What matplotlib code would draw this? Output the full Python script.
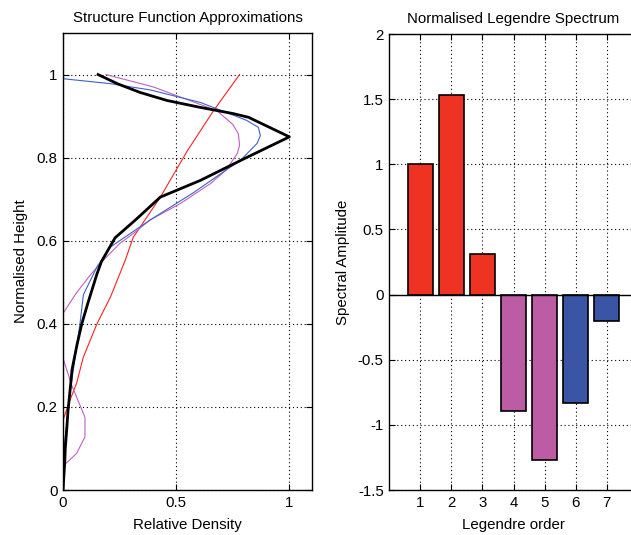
import matplotlib
matplotlib.use('Agg')
import matplotlib.pyplot as plt

plt.rcParams['font.family'] = ['Liberation Sans', 'DejaVu Sans']
plt.rcParams['font.size'] = 10.8
plt.rcParams['axes.unicode_minus'] = False

# structure function profiles (height, relative density)
black_h = [1.0, 0.978, 0.957, 0.9375, 0.921, 0.906, 0.897, 0.85, 0.80, 0.745,
           0.705, 0.65, 0.607, 0.55, 0.52, 0.45, 0.40, 0.35, 0.29, 0.25,
           0.19, 0.15, 0.10, 0.07, 0.0]
black_x = [0.155, 0.24, 0.34, 0.46, 0.606, 0.752, 0.82, 1.00, 0.81, 0.606,
           0.43, 0.32, 0.23, 0.17, 0.15, 0.11, 0.083, 0.062, 0.04, 0.033,
           0.022, 0.017, 0.010, 0.008, 0.0]

blue_h = [0.99, 0.978, 0.963, 0.933, 0.89, 0.873, 0.853, 0.834, 0.793, 0.77,
          0.717, 0.65, 0.585, 0.537, 0.47, 0.40, 0.345, 0.23, 0.15, 0.10, 0.0]
blue_x = [0.0, 0.21, 0.385, 0.606, 0.81, 0.863, 0.872, 0.857, 0.783, 0.72,
          0.58, 0.385, 0.21, 0.15, 0.09, 0.075, 0.06, 0.03, 0.015, 0.004, 0.003]

mag_h = [1.0, 0.97, 0.913, 0.88, 0.857, 0.83, 0.81, 0.77, 0.737, 0.69,
         0.65, 0.617, 0.593, 0.545, 0.517, 0.475, 0.425, 0.37, 0.317, 0.25,
         0.175, 0.128, 0.088, 0.065, 0.04, 0.0]
mag_x = [0.19, 0.40, 0.68, 0.75, 0.775, 0.78, 0.77, 0.72, 0.65, 0.52,
         0.385, 0.31, 0.25, 0.164, 0.12, 0.06, 0.0, -0.03, 0.0, 0.04,
         0.097, 0.097, 0.06, 0.015, -0.03, -0.08]

red_h = [0.14, 0.168, 0.215, 0.257, 0.32, 0.40, 0.465, 0.553, 0.608,
         0.705, 0.817, 0.913, 1.0]
red_x = [-0.02, 0.0, 0.03, 0.06, 0.09, 0.15, 0.21, 0.275, 0.31,
         0.43, 0.55, 0.665, 0.78]

# legendre spectrum
orders = [1, 2, 3, 4, 5, 6, 7]
amplitudes = [1.0, 1.53, 0.31, -0.89, -1.27, -0.83, -0.20]
bar_colors = ['#EE3322', '#EE3322', '#EE3322', '#BB5CA4', '#BB5CA4',
              '#3A55A5', '#3A55A5']


def style_axes(ax):
    ax.tick_params(direction='in', length=4, top=True, right=True,
                   width=0.8, colors='black', pad=4)
    ax.grid(True, color='black', linestyle=(0, (1, 2.5)), linewidth=0.8)
    ax.set_axisbelow(True)
    for s in ax.spines.values():
        s.set_linewidth(1.0)


W, H = 631, 535
fig = plt.figure(figsize=(W / 100, H / 100), dpi=100)

ax1 = fig.add_axes([63 / W, 1 - 490 / H, (312 - 63) / W, (490 - 33) / H])
ax1.plot(red_x, red_h, color='#FF2020', lw=0.8)
ax1.plot(mag_x, mag_h, color='#C060C0', lw=0.8)
ax1.plot(blue_x, blue_h, color='#4060C8', lw=0.8)
ax1.plot(black_x, black_h, color='black', lw=2.0)
ax1.set_xlim(0, 1.1)
ax1.set_ylim(0, 1.1)
ax1.set_xticks([0, 0.5, 1])
ax1.set_xticklabels(['0', '0.5', '1'])
ax1.set_yticks([0, 0.2, 0.4, 0.6, 0.8, 1.0])
ax1.set_yticklabels(['0', '0.2', '0.4', '0.6', '0.8', '1'])
style_axes(ax1)
ax1.set_title('Structure Function Approximations', fontsize=10.8, pad=8)
ax1.set_xlabel('Relative Density', labelpad=6)
ax1.set_ylabel('Normalised Height', labelpad=6)

ax2 = fig.add_axes([389.3 / W, 1 - 490 / H, (637.8 - 389.3) / W, (490 - 34) / H])
ax2.bar(orders, amplitudes, width=0.8, color=bar_colors,
        edgecolor='black', linewidth=1.2, zorder=3)
ax2.axhline(0, color='black', lw=1.0, zorder=4)
ax2.set_xlim(0, 8)
ax2.set_ylim(-1.5, 2)
ax2.set_xticks(orders)
ax2.set_xticklabels([str(o) for o in orders])
yt = [-1.5, -1, -0.5, 0, 0.5, 1, 1.5, 2]
ax2.set_yticks(yt)
ax2.set_yticklabels(['-1.5', '-1', '-0.5', '0', '0.5', '1', '1.5', '2'])
style_axes(ax2)
ax2.set_title('Normalised Legendre Spectrum', fontsize=10.8, pad=8)
ax2.set_xlabel('Legendre order', labelpad=6)
ax2.set_ylabel('Spectral Amplitude', labelpad=6)

fig.savefig('out.png', dpi=100)
